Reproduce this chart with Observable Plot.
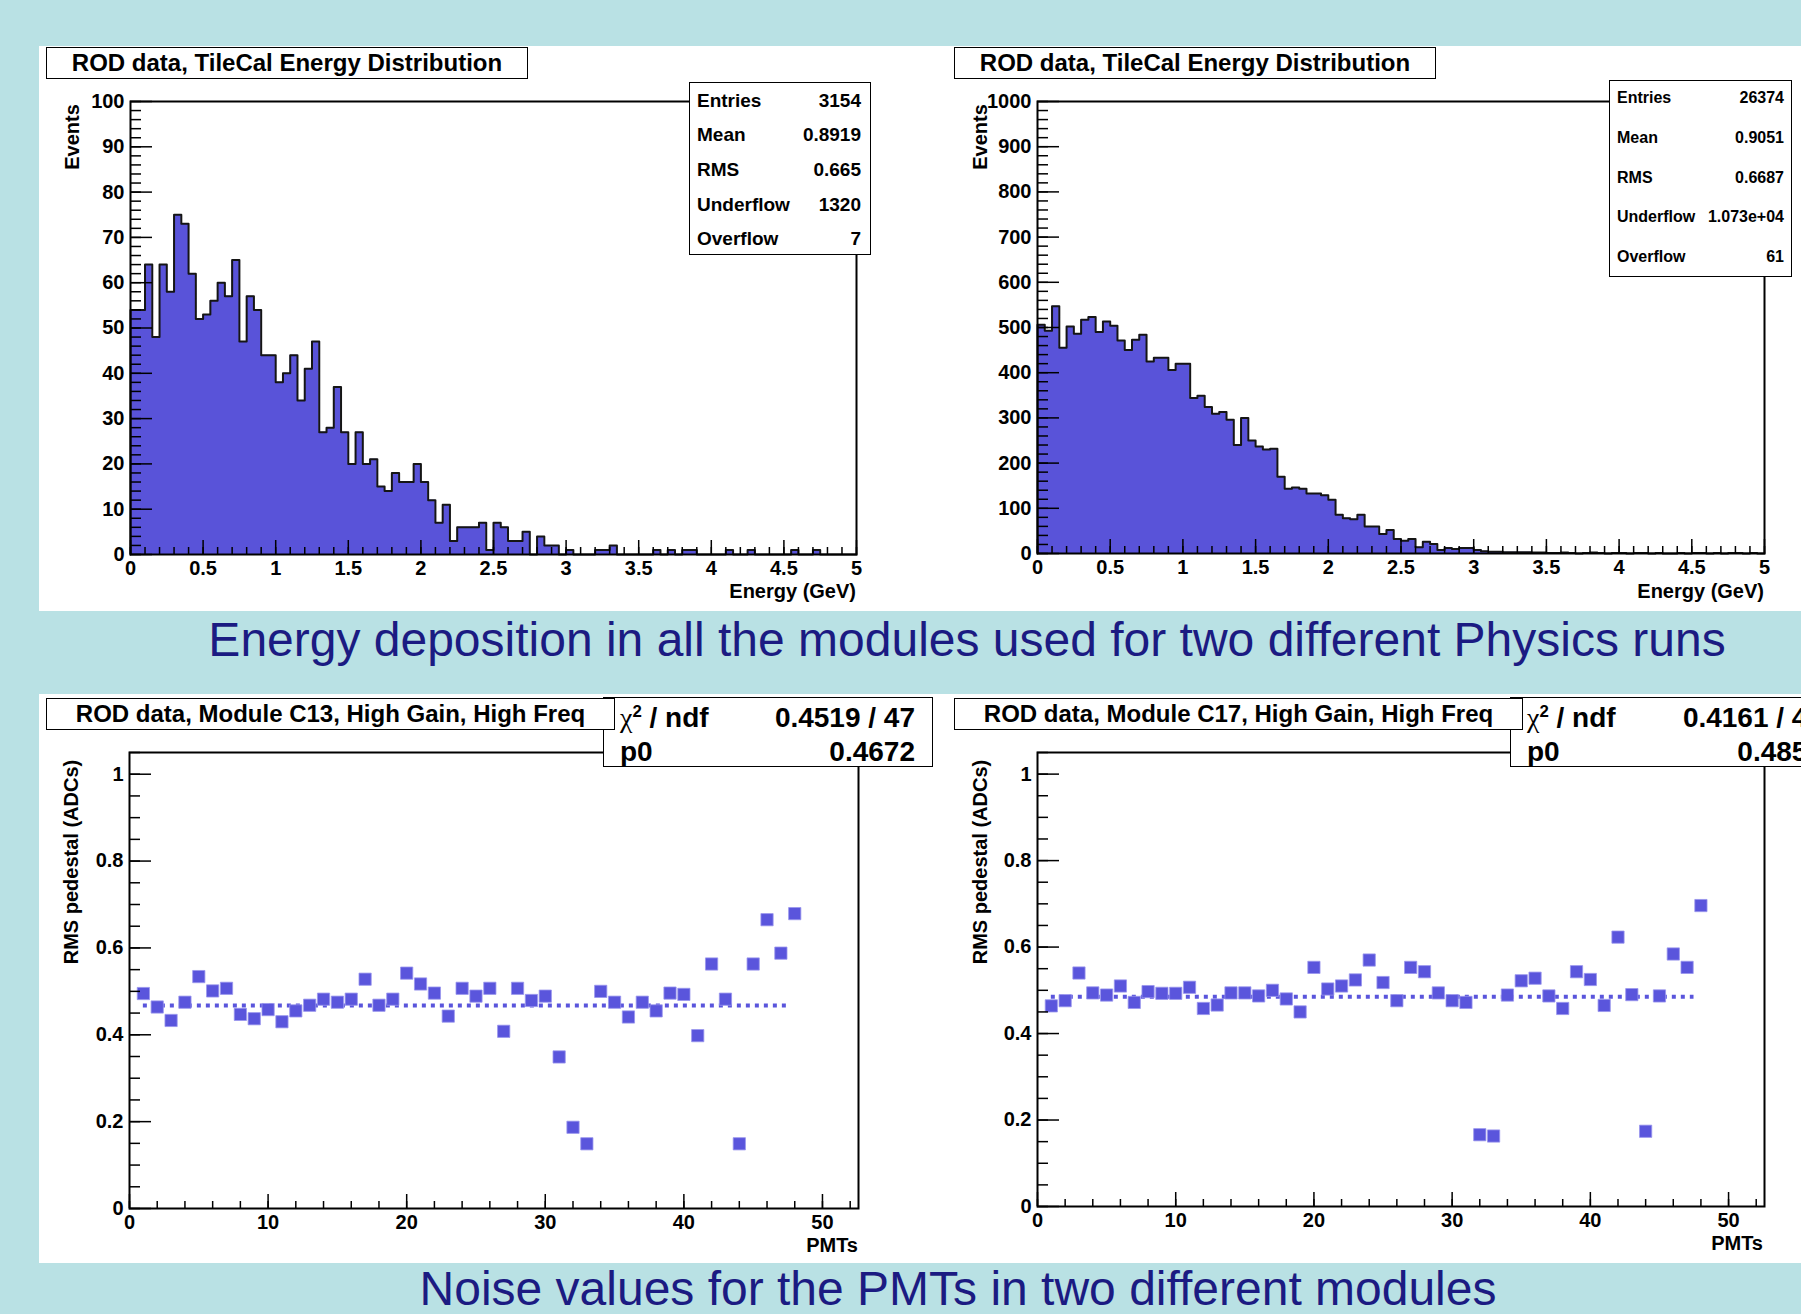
<!DOCTYPE html>
<html>
<head>
<meta charset="utf-8">
<script src="https://cdn.jsdelivr.net/npm/d3@7"></script>
<script src="https://cdn.jsdelivr.net/npm/@observablehq/plot@0.6"></script>
<style>
  html, body { margin: 0; padding: 0; }
  body { width: 1801px; height: 1314px; overflow: hidden; background: #b9e1e4; font-family: "Liberation Sans", Arial, Helvetica, sans-serif; }
  #page { position: relative; width: 1801px; height: 1314px; overflow: hidden; background: #b9e1e4; }
  .panel { position: absolute; background: #fff; }
  .plot { position: absolute; }
  .txt { position: absolute; white-space: nowrap; line-height: 1; font-weight: bold; color: #000; }
  .box { position: absolute; background: #fff; border: 1.5px solid #000; box-sizing: border-box; }
  .caption { position: absolute; white-space: nowrap; line-height: 1; font-size: 48px; color: #1b1b82; font-weight: normal; }
</style>
</head>
<body>
<div id="page"></div>
<script>
// ---------------- data ----------------
const BIN_WIDTH = 0.05;
const energyRange = [0, 5];
const energyMajor = [0, 0.5, 1, 1.5, 2, 2.5, 3, 3.5, 4, 4.5, 5];
const energyMinor = d3.range(0, 5.001, 0.1);

// Run A (left) bin contents, 100 bins of 0.05 GeV
const runACounts = [
  54, 54, 64, 48, 64, 58, 75, 73, 62, 52,
  53, 56, 60, 57, 65, 47, 57, 54, 44, 44,
  38, 40, 44, 34, 41, 47, 27, 28, 37, 27,
  20, 27, 20, 21, 15, 14, 18, 16, 16, 20,
  16, 12, 7, 11, 3, 6, 6, 6, 7, 1,
  7, 6, 3, 3, 5, 0, 4, 2, 2, 0,
  1, 0, 0, 0, 1, 1, 2, 0, 0, 0,
  0, 0, 1, 0, 1, 0, 1, 1, 0, 0,
  0, 0, 1, 0, 0, 1, 0, 0, 0, 0,
  0, 1, 0, 0, 1, 0, 0, 0, 0, 0
];
// Run B (right) bin contents
const runBCounts = [
  506, 493, 547, 455, 502, 486, 517, 523, 490, 513,
  504, 471, 450, 473, 484, 425, 433, 433, 406, 420,
  420, 344, 349, 324, 309, 313, 296, 240, 300, 250,
  237, 230, 232, 170, 143, 146, 143, 133, 133, 129,
  119, 86, 78, 76, 86, 60, 60, 43, 52, 32,
  28, 32, 14, 26, 21, 8, 12, 10, 12, 12,
  8, 5, 4, 4, 3, 3, 3, 3, 2, 2,
  1, 1, 2, 1, 0, 1, 2, 1, 0, 1,
  1, 0, 1, 1, 0, 1, 0, 0, 1, 0,
  1, 1, 0, 1, 0, 1, 1, 0, 1, 0
];
const runAYMajor = [0, 10, 20, 30, 40, 50, 60, 70, 80, 90, 100];
const runAYMinor = d3.range(0, 100.1, 2);
const runBYMajor = [0, 100, 200, 300, 400, 500, 600, 700, 800, 900, 1000];
const runBYMinor = d3.range(0, 1000.1, 20);

const runAStatLabels = ["Entries", "Mean", "RMS", "Underflow", "Overflow"];
const runAStatValues = ["3154", "0.8919", "0.665", "1320", "7"];
const runBStatLabels = ["Entries", "Mean", "RMS", "Underflow", "Overflow"];
const runBStatValues = ["26374", "0.9051", "0.6687", "1.073e+04", "61"];

// RMS pedestal per PMT (1..48)
const pmtC13 = [
  0.495, 0.464, 0.433, 0.475, 0.534, 0.501, 0.507, 0.447, 0.437, 0.458,
  0.430, 0.455, 0.468, 0.482, 0.475, 0.482, 0.528, 0.468, 0.482, 0.542,
  0.517, 0.496, 0.443, 0.507, 0.489, 0.507, 0.408, 0.507, 0.479, 0.489,
  0.349, 0.187, 0.149, 0.500, 0.475, 0.441, 0.475, 0.455, 0.496, 0.493,
  0.398, 0.563, 0.482, 0.149, 0.563, 0.665, 0.588, 0.679
];
const pmtC17 = [
  0.464, 0.476, 0.540, 0.494, 0.489, 0.510, 0.472, 0.497, 0.493, 0.493,
  0.507, 0.458, 0.466, 0.494, 0.494, 0.487, 0.500, 0.480, 0.450, 0.553,
  0.503, 0.510, 0.524, 0.570, 0.518, 0.476, 0.553, 0.543, 0.494, 0.476,
  0.472, 0.166, 0.163, 0.489, 0.522, 0.528, 0.487, 0.458, 0.543, 0.525,
  0.465, 0.623, 0.490, 0.174, 0.487, 0.584, 0.553, 0.696
];
const fitChi2 = ["0.4519 / 47", "0.4161 / 47"];
const fitP0 = [0.4672, 0.4853];
const fitP0Text = ["0.4672", "0.4853"];
const fitRange = [1, 47.5];
const pmtRange = [0, 52.6];
const rmsRange = [0, 1.05];
const pmtMajor = [0, 10, 20, 30, 40, 50];
const pmtMinor = d3.range(0, 52.1, 2);
const rmsMajor = [0, 0.2, 0.4, 0.6, 0.8, 1];
const rmsMinor = d3.range(0, 1.051, 0.05);

// ---------------- styling ----------------
const FILL = "#5953d9";
const MARK = "#5a55dc";
const STYLE = {background: "transparent", overflow: "visible", fontFamily: "'Liberation Sans', Arial, sans-serif", fontSize: "20px", fontWeight: "bold", color: "#000"};

const page = document.getElementById("page");
function el(cls, css, html) {
  const d = document.createElement("div");
  d.className = cls;
  Object.assign(d.style, css);
  if (html != null) d.innerHTML = html;
  page.appendChild(d);
  return d;
}
function text(str, x, y, opt = {}) {
  const anchor = opt.anchor || "start";
  const tx = anchor === "start" ? "0" : anchor === "middle" ? "-50%" : "-100%";
  const rot = opt.rotate ? ` rotate(${opt.rotate}deg)` : "";
  return el("txt", {left: x + "px", top: y + "px", fontSize: (opt.size || 20) + "px",
    transform: `translate(${tx},-50%)${rot}`, fontWeight: opt.weight || "bold"}, str);
}
function place(svg, x, y) {
  const wrap = el("plot", {left: x + "px", top: y + "px"});
  wrap.appendChild(svg);
}

function histogram(counts, yMax, yMajor, yMinor, o) {
  const bins = counts.map((c, i) => ({x1: i * BIN_WIDTH, n: c}));
  const outline = [{x: 0, n: 0}, ...bins.map(b => ({x: b.x1, n: b.n})),
                   {x: energyRange[1], n: counts[counts.length - 1]}, {x: energyRange[1], n: 0}];
  const pw = o.width - o.ml - o.mr, ph = o.height - o.mt - o.mb;
  return Plot.plot({
    width: o.width, height: o.height,
    marginLeft: o.ml, marginRight: o.mr, marginTop: o.mt, marginBottom: o.mb,
    style: STYLE,
    x: {domain: energyRange, label: null},
    y: {domain: [0, yMax], label: null},
    marks: [
      Plot.area(outline, {x1: "x", y1: 0, y2: "n", curve: "step-after", fill: FILL}),
      Plot.line(outline, {x: "x", y: "n", curve: "step-after", stroke: "#151515", strokeWidth: 2}),
      Plot.tickX(energyMinor, {x: d => d, insetTop: ph - 7, stroke: "#000", strokeWidth: 1.5}),
      Plot.tickX(energyMajor, {x: d => d, insetTop: ph - 14, stroke: "#000", strokeWidth: 1.5}),
      Plot.tickY(yMinor, {y: d => d, insetRight: pw - 11, stroke: "#000", strokeWidth: 1.5}),
      Plot.tickY(yMajor, {y: d => d, insetRight: pw - 22, stroke: "#000", strokeWidth: 1.5}),
      Plot.axisX(energyMajor, {tickSize: 0, tickPadding: 6, tickFormat: d => String(d)}),
      Plot.axisY(yMajor, {tickSize: 0, tickPadding: 6, tickFormat: d => String(d)}),
      Plot.frame({stroke: "#000", strokeWidth: 2})
    ]
  });
}

function noise(values, p0, o) {
  const pts = values.map((v, i) => ({pmt: i + 1, rms: v}));
  const fit = [{p0, x1: fitRange[0], x2: fitRange[1]}];
  const pw = o.width - o.ml - o.mr, ph = o.height - o.mt - o.mb;
  return Plot.plot({
    width: o.width, height: o.height,
    marginLeft: o.ml, marginRight: o.mr, marginTop: o.mt, marginBottom: o.mb,
    style: STYLE,
    x: {domain: pmtRange, label: null},
    y: {domain: rmsRange, label: null},
    marks: [
      Plot.ruleY(fit, {y: "p0", x1: "x1", x2: "x2", stroke: MARK, strokeWidth: 4, strokeDasharray: "4 5"}),
      Plot.dot(pts, {x: "pmt", y: "rms", symbol: "square", r: 6.9, fill: MARK, stroke: "#9995ee", strokeWidth: 0.8}),
      Plot.tickX(pmtMinor, {x: d => d, insetTop: ph - 7, stroke: "#000", strokeWidth: 1.5}),
      Plot.tickX(pmtMajor, {x: d => d, insetTop: ph - 14, stroke: "#000", strokeWidth: 1.5}),
      Plot.tickY(rmsMinor, {y: d => d, insetRight: pw - 11, stroke: "#000", strokeWidth: 1.5}),
      Plot.tickY(rmsMajor, {y: d => d, insetRight: pw - 22, stroke: "#000", strokeWidth: 1.5}),
      Plot.axisX(pmtMajor, {tickSize: 0, tickPadding: 6, tickFormat: d => String(d)}),
      Plot.axisY(rmsMajor, {tickSize: 0, tickPadding: 6, tickFormat: d => String(d)}),
      Plot.frame({stroke: "#000", strokeWidth: 2})
    ]
  });
}

// ---------------- white panels ----------------
el("panel", {left: "39px", top: "46px", width: "910px", height: "565px"});
el("panel", {left: "949px", top: "46px", width: "852px", height: "565px"});
el("panel", {left: "39px", top: "694px", width: "912px", height: "569px"});
el("panel", {left: "951px", top: "694px", width: "850px", height: "569px"});

// ---------------- plots ----------------
place(histogram(runACounts, 100, runAYMajor, runAYMinor, {width: 909, height: 565, ml: 91, mr: 92, mt: 55, mb: 57}), 39, 46);
place(histogram(runBCounts, 1000, runBYMajor, runBYMinor, {width: 852, height: 565, ml: 88, mr: 37, mt: 55, mb: 58}), 949, 46);
place(noise(pmtC13, fitP0[0], {width: 911, height: 569, ml: 90, mr: 92, mt: 58, mb: 55}), 39, 694);
place(noise(pmtC17, fitP0[1], {width: 850, height: 569, ml: 86, mr: 37, mt: 58, mb: 57}), 951, 694);

// ---------------- axis titles ----------------
text("Events", 72, 137, {anchor: "middle", rotate: -90});
text("Events", 980, 137, {anchor: "middle", rotate: -90});
text("Energy (GeV)", 856, 591, {anchor: "end"});
text("Energy (GeV)", 1764, 591, {anchor: "end"});
text("RMS pedestal (ADCs)", 71, 862, {anchor: "middle", rotate: -90});
text("RMS pedestal (ADCs)", 980, 862, {anchor: "middle", rotate: -90});
text("PMTs", 858, 1245, {anchor: "end"});
text("PMTs", 1763, 1243, {anchor: "end"});

// ---------------- stats boxes ----------------
el("box", {left: "689px", top: "82px", width: "182px", height: "173px"});
[100, 134, 169, 204, 238].forEach((y, i) => {
  text(runAStatLabels[i], 697, y, {size: 19});
  text(runAStatValues[i], 861, y, {size: 19, anchor: "end"});
});
el("box", {left: "1609px", top: "80px", width: "183px", height: "197px"});
[98, 138, 178, 217, 257].forEach((y, i) => {
  text(runBStatLabels[i], 1617, y, {size: 16});
  text(runBStatValues[i], 1784, y, {size: 16, anchor: "end"});
});
const chiLabel = '<span style="font-family:\'Liberation Serif\',serif;font-weight:normal">&chi;</span><sup style="font-size:0.6em">2</sup> / ndf';
[[603, 915], [1510, 1823]].forEach(([bx, vx], i) => {
  el("box", {left: bx + "px", top: "697px", width: "330px", height: "70px"});
  text(chiLabel, bx + 17, 718, {size: 28});
  text(fitChi2[i], vx, 718, {size: 28, anchor: "end"});
  text("p0", bx + 17, 752, {size: 28});
  text(fitP0Text[i], vx, 752, {size: 28, anchor: "end"});
});

// ---------------- title boxes ----------------
function titleBox(str, x, y, w) {
  const b = el("box", {left: x + "px", top: y + "px", width: w + "px", height: "32px"});
  b.style.display = "flex"; b.style.alignItems = "center"; b.style.justifyContent = "center";
  b.style.fontWeight = "bold"; b.style.fontSize = "24px"; b.style.whiteSpace = "nowrap";
  b.textContent = str;
}
titleBox("ROD data, TileCal Energy Distribution", 46, 47, 482);
titleBox("ROD data, TileCal Energy Distribution", 954, 47, 482);
titleBox("ROD data, Module C13, High Gain, High Freq", 46, 698, 569);
titleBox("ROD data, Module C17, High Gain, High Freq", 954, 698, 569);

// ---------------- captions ----------------
el("caption", {left: "967px", top: "616px", transform: "translateX(-50%)"},
   "Energy deposition in all the modules used for two different Physics runs");
el("caption", {left: "958px", top: "1265px", transform: "translateX(-50%)"},
   "Noise values for the PMTs in two different modules");
</script>
</body>
</html>
